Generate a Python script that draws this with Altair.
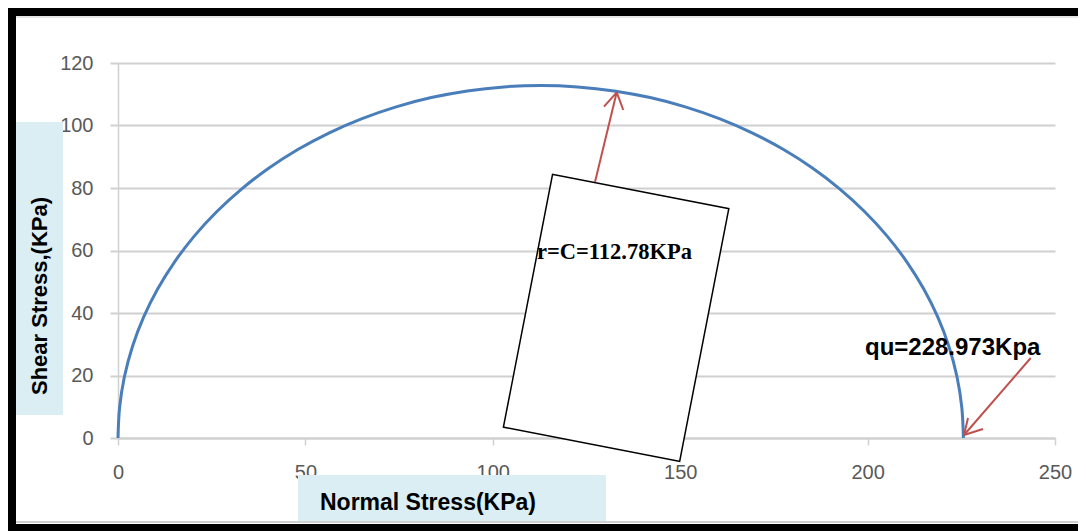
import altair as alt
import pandas as pd

# Mohr circle (normal stress, shear stress), KPa
sigma = [0.0, 0.43, 1.71, 3.84, 6.80, 10.57, 15.11, 20.40, 26.39, 33.03, 40.29, 48.09,
         56.39, 65.12, 74.21, 83.59, 93.20, 102.95, 112.78, 122.61, 132.36, 141.97,
         151.35, 160.44, 169.17, 177.47, 185.27, 192.53, 199.17, 205.16, 210.45,
         214.99, 218.76, 221.72, 223.85, 225.13, 225.56]
tau = [0.0, 9.83, 19.58, 29.19, 38.57, 47.66, 56.39, 64.69, 72.49, 79.75, 86.39, 92.38,
       97.67, 102.21, 105.98, 108.94, 111.07, 112.35, 112.78, 112.35, 111.07, 108.94,
       105.98, 102.21, 97.67, 92.38, 86.39, 79.75, 72.49, 64.69, 56.39, 47.66, 38.57,
       29.19, 19.58, 9.83, 0.0]

x_ticks = [0, 50, 100, 150, 200, 250]
y_ticks = [0, 20, 40, 60, 80, 100, 120]

x_title = "Normal Stress(KPa)"
y_title = "Shear Stress,(KPa)"
label_r = "r=C=112.78KPa"
label_qu = "qu=228.973Kpa"

# red arrows (data units): shafts and heads
arr_x = [127.27, 133.06, 133.06, 243.52, 225.72, 225.72]
arr_y = [81.92, 110.62, 110.62, 25.6, 0.96, 0.96]
arr_x2 = [133.06, 129.67, 134.82, 225.72, 226.79, 230.79]
arr_y2 = [110.62, 106.02, 104.96, 0.96, 6.4, 2.88]

W, H = 937, 375
PAD = {"left": 110, "top": 55, "right": 23, "bottom": 93}

circle_df = pd.DataFrame({"sigma": sigma, "tau": tau, "order": list(range(len(sigma)))})
one = pd.DataFrame({"a": [0]})
arr_df = pd.DataFrame({"x": arr_x, "y": arr_y, "x2": arr_x2, "y2": arr_y2})

xs = alt.Scale(domain=[0, 250], nice=False)
ys = alt.Scale(domain=[0, 120], nice=False)

GRID = "#d0d0d0"
LBL = "#595959"
FONT = "Liberation Sans"

base_line = alt.Chart(circle_df).mark_line(
    color="#4a7ebb", strokeWidth=3, interpolate="catmull-rom"
).encode(
    x=alt.X("sigma:Q", scale=xs,
            axis=alt.Axis(values=x_ticks, title=None, grid=False, domainColor=GRID,
                          domainWidth=2, tickColor=GRID, tickWidth=1.5, tickSize=7,
                          labelPadding=17, labelFontSize=20, labelColor=LBL, labelFont=FONT,
                          labelFlush=False)),
    y=alt.Y("tau:Q", scale=ys,
            axis=alt.Axis(values=y_ticks, title=None, grid=True, gridColor=GRID, gridWidth=2,
                          domainColor=GRID, domainWidth=1.5, tickColor=GRID, tickWidth=2,
                          tickSize=8, labelPadding=17, labelFontSize=20, labelColor=LBL,
                          labelFont=FONT, labelFlush=False)),
    order="order:Q",
)

# rotated text box
box = alt.Chart(one).mark_point(
    shape="M -0.697 -1 L 0.697 -1 L 0.697 1 L -0.697 1 Z",
    size=66358, angle=11, filled=True, fill="white", stroke="black",
    strokeWidth=1.5, opacity=1,
).encode(x=alt.datum(132.9, scale=xs), y=alt.datum(38.43, scale=ys))

r_text = alt.Chart(one).mark_text(
    text=label_r, font="Liberation Serif", fontWeight="bold", fontSize=22.5,
    align="left", baseline="middle", color="black",
).encode(x=alt.datum(111.79, scale=xs), y=alt.datum(59.52, scale=ys))

qu_text = alt.Chart(one).mark_text(
    text=label_qu, font=FONT, fontWeight="bold", fontSize=24,
    align="left", baseline="middle", color="black",
).encode(x=alt.datum(199.3, scale=xs), y=alt.datum(28.8, scale=ys))

arrows = alt.Chart(arr_df).mark_rule(color="#c0504d", strokeWidth=2).encode(
    x=alt.X("x:Q", scale=xs), y=alt.Y("y:Q", scale=ys),
    x2="x2:Q", y2="y2:Q",
)

# layout decorations (pixels relative to plot origin)
def prect(x1, x2, y1, y2, color):
    return alt.Chart(one).mark_rect(color=color).encode(
        x=alt.value(x1), x2=alt.value(x2), y=alt.value(y1), y2=alt.value(y2))

ybox = prect(-103, -55, 59, 352, "#daeef3")
xbox = prect(180, 488, 412, 459, "#daeef3")
top_border = prect(-110, 960, -55, -47, "black")
top_grey = prect(-102, 960, -47, -45, "#e6e6e6")
left_border = prect(-110, -102, -55, 468, "black")
bot_grey = prect(-102, 960, 458, 460, "#cfcfcf")
bot_border = prect(-110, 960, 461, 468, "black")

ytitle = alt.Chart(one).mark_text(
    text=y_title, font=FONT, fontWeight="bold", fontSize=22, angle=270,
    align="center", baseline="middle", color="black",
).encode(x=alt.value(-78), y=alt.value(233))

xtitle = alt.Chart(one).mark_text(
    text=x_title, font=FONT, fontWeight="bold", fontSize=23,
    align="center", baseline="middle", color="black",
).encode(x=alt.value(310), y=alt.value(440))

chart = alt.layer(
    ybox, xbox, base_line, box, r_text, arrows, qu_text, ytitle, xtitle,
    top_border, top_grey, left_border, bot_grey, bot_border,
).properties(
    width=W, height=H, padding=PAD, autosize=alt.AutoSizeParams(type="none"),
    background="white",
).configure_view(stroke=None)

chart.save("out.html", embed_options={"renderer": "svg", "actions": False})
